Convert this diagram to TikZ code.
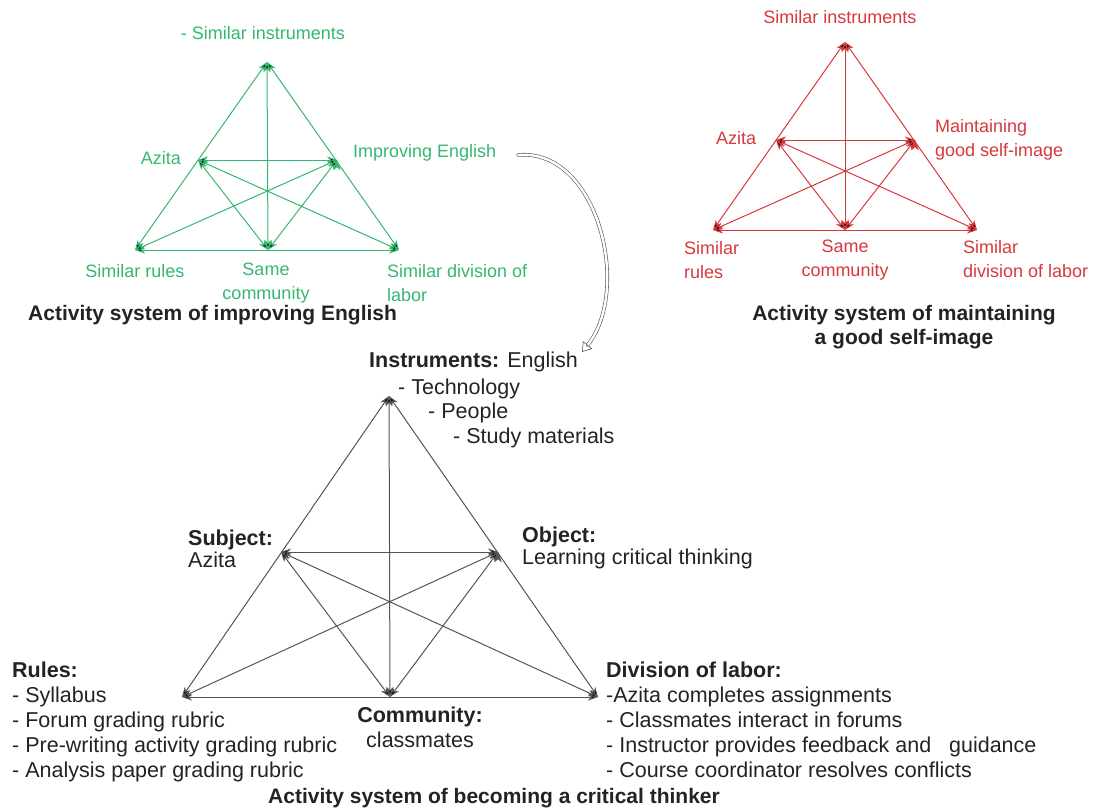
\documentclass[tikz,border=0pt]{standalone}
\usepackage{fontspec}
\setmainfont{Liberation Sans}
\usetikzlibrary{arrows.meta}
\definecolor{acgreen}{RGB}{52,184,112}
\definecolor{acred}{RGB}{214,56,60}
\definecolor{acgray}{RGB}{85,85,85}
\definecolor{actext}{RGB}{35,35,35}

\tikzset{
  tri/.style={<->, >={Stealth[length=10pt,width=7pt,inset=3pt]}, line width=1pt},
  lab/.style={inner sep=0pt, font=\fontsize{18}{24}\selectfont, align=left},
  big/.style={inner sep=0pt, font=\fontsize{21.5}{25}\selectfont, text=actext, align=left},
  ttl/.style={inner sep=0pt, font=\fontsize{21}{24}\bfseries\selectfont, text=actext, align=center},
  hollow/.style={draw=acgray, double=white, double distance=2.4pt, line width=0.6pt,
    line cap=round, -{Triangle[open,length=9pt,width=12pt]}},
}

\begin{document}
\begin{tikzpicture}[x=1pt,y=-1pt]
\useasboundingbox (0,0) rectangle (1108,811);

% improving English
\coordinate (g-I) at (267,62);
\coordinate (g-S) at (198,160);
\coordinate (g-O) at (337,160);
\coordinate (g-R) at (135,250);
\coordinate (g-C) at (268,250);
\coordinate (g-D) at (399,250);

% maintaining a good self-image
\coordinate (r-I) at (845,42);
\coordinate (r-S) at (776,140);
\coordinate (r-O) at (915,140);
\coordinate (r-R) at (713,230);
\coordinate (r-C) at (845,230);
\coordinate (r-D) at (977,230);

% becoming a critical thinker
\coordinate (k-I) at (389,396);
\coordinate (k-S) at (281,552);
\coordinate (k-O) at (498,552);
\coordinate (k-R) at (182,697);
\coordinate (k-C) at (390,697);
\coordinate (k-D) at (598,697);

\foreach \p/\c in {g/acgreen, r/acred, k/acgray} {
  \draw[tri, draw=\c] (\p-I) edge (\p-R) (\p-I) edge (\p-D) (\p-R) edge (\p-D)
    (\p-I) edge (\p-C) (\p-S) edge (\p-O) (\p-S) edge (\p-C)
    (\p-O) edge (\p-C) (\p-S) edge (\p-D) (\p-O) edge (\p-R);
}

\node[lab, text=acgreen] (gIl) at (263,33) {- Similar instruments};
\node[lab, text=acgreen, anchor=east] (gSl) at (181,158) {Azita};
\node[lab, text=acgreen, anchor=west] (gOl) at (353,153) {Improving English};
\node[lab, text=acgreen] (gRl) at (135,271) {Similar rules};
\node[lab, text=acgreen, align=center] (gCl) at (266,283) {Same\\community};
\node[lab, text=acgreen, anchor=west] (gDl) at (387,283) {Similar division of\\labor};
\node[ttl, anchor=west] (gT) at (28,315) {Activity system of improving English};

\node[lab, text=acred] (rIl) at (840,17) {Similar instruments};
\node[lab, text=acred] (rSl) at (736,138) {Azita};
\node[lab, text=acred, anchor=west] (rOl) at (935,140) {Maintaining\\good self-image};
\node[lab, text=acred, anchor=west] (rRl) at (684,260) {Similar\\rules};
\node[lab, text=acred, align=center] (rCl) at (845,260) {Same\\community};
\node[lab, text=acred, anchor=west] (rDl) at (963,259) {Similar\\division of labor};
\node[ttl] (rT) at (904,327) {Activity system of maintaining\\a good self-image};

\node[big, anchor=west] (kIl) at (369,362) {\textbf{Instruments:} English};
\node[big, anchor=west] (kIa) at (398,389) {- Technology};
\node[big, anchor=west] (kIb) at (428,413) {- People};
\node[big, anchor=west] (kIc) at (453,438) {- Study materials};
\node[big, anchor=north west] (kSl) at (188,530) {\textbf{Subject:}\\[-3pt]Azita};
\node[big, anchor=north west] (kOl) at (522,527) {\textbf{Object:}\\[-3pt]Learning critical thinking};
\node[big, anchor=north west] (kRl) at (12,662) {\textbf{Rules:}\\- Syllabus\\- Forum grading rubric\\- Pre-writing activity grading rubric\\- Analysis paper grading rubric};
\node[big, anchor=north, align=center] (kCl) at (420,707) {\textbf{Community:}\\classmates};
\node[big, anchor=north west] (kDl) at (606,662) {\textbf{Division of labor:}\\-Azita completes assignments\\- Classmates interact in forums\\- Instructor provides feedback and\ \ \ guidance\\- Course coordinator resolves conflicts};
\node[ttl, anchor=west] (kT) at (268,798) {Activity system of becoming a critical thinker};

\coordinate (ca1) at (518,155);
\coordinate (ca2) at (582,352);
\draw[hollow] (ca1) .. controls (598,148) and (632,290) .. (ca2);

\end{tikzpicture}
\end{document}
